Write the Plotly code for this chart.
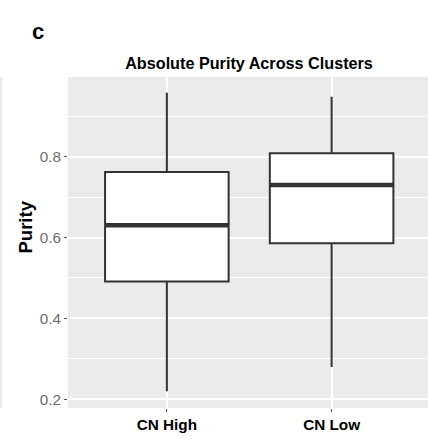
import plotly.graph_objects as go
import numpy as np

categories = ["CN High", "CN Low"]
q1 = [0.491, 0.586]
median = [0.630, 0.730]
q3 = [0.762, 0.808]
lower_whisker = [0.220, 0.280]
upper_whisker = [0.958, 0.948]

yticks = [0.2, 0.4, 0.6, 0.8]
ytick_labels = ["0.2", "0.4", "0.6", "0.8"]

FONT = "Liberation Sans, Arial, sans-serif"
W, H = 428, 439
ML, MR, MT, MB = 68, 0, 77, 31
PW, PH = W - ML - MR, H - MT - MB
box_w = 0.75

xpos = list(range(len(categories)))

fig = go.Figure()
fig.add_trace(go.Box(
    x=xpos, q1=q1, median=median, q3=q3,
    lowerfence=lower_whisker, upperfence=upper_whisker,
    width=box_w, whiskerwidth=0,
    fillcolor="white", line=dict(color="#333333", width=2),
    boxpoints=False, hoverinfo="skip", showlegend=False,
))
for i, m in zip(xpos, median):
    fig.add_trace(go.Scatter(
        x=[i - box_w / 2, i + box_w / 2], y=[m, m], mode="lines",
        line=dict(color="#333333", width=4.5), hoverinfo="skip", showlegend=False,
    ))

fig.update_layout(
    width=W, height=H,
    margin=dict(l=ML, r=MR, t=MT, b=MB, pad=0),
    paper_bgcolor="white", plot_bgcolor="#EBEBEB",
    font=dict(family=FONT),
    title=dict(text="<b>Absolute Purity Across Clusters</b>",
               font=dict(size=16.2, color="black", family=FONT),
               x=249 / W, xanchor="center", y=1 - 63 / H, yanchor="middle"),
    xaxis=dict(range=[-0.6, 1.585], tickvals=xpos,
               ticktext=["<b>%s</b>" % c for c in categories],
               tickfont=dict(size=15.3, color="black", family=FONT),
               showgrid=True, gridcolor="white", gridwidth=1.5,
               ticks="outside", ticklen=3, tickcolor="#555555", tickwidth=1,
               zeroline=False, showline=False, fixedrange=True),
    yaxis=dict(range=[0.1785, 0.9968], tickvals=yticks, ticktext=ytick_labels,
               tickfont=dict(size=15.3, color="#6e6e6e", family=FONT),
               showgrid=True, gridcolor="white", gridwidth=1.5,
               minor=dict(dtick=0.1, tick0=0.1, showgrid=True, gridcolor="white", gridwidth=0.7, ticks=""),
               ticks="outside", ticklen=3, tickcolor="#555555", tickwidth=1,
               zeroline=False, showline=False, fixedrange=True),
)

# y-axis title
fig.add_annotation(text="<b>Purity</b>", xref="paper", yref="paper",
                   x=(25 - ML) / PW, y=1 - (227.5 - MT) / PH,
                   xanchor="center", yanchor="middle", textangle=-90, showarrow=False,
                   font=dict(size=18.5, color="black", family=FONT))
# panel label
fig.add_annotation(text="<b>c</b>", xref="paper", yref="paper",
                   x=(38 - ML) / PW, y=1 + (MT - 32) / PH,
                   xanchor="center", yanchor="middle", showarrow=False,
                   font=dict(size=22, color="black", family=FONT))
# sliver of neighbouring panel at left edge
fig.add_shape(type="rect", xref="paper", yref="paper",
              x0=(0 - ML) / PW, x1=(2 - ML) / PW, y0=0, y1=1,
              fillcolor="#EBEBEB", line=dict(width=0), layer="below")

fig.write_html("out.html", config=dict(displayModeBar=False))
